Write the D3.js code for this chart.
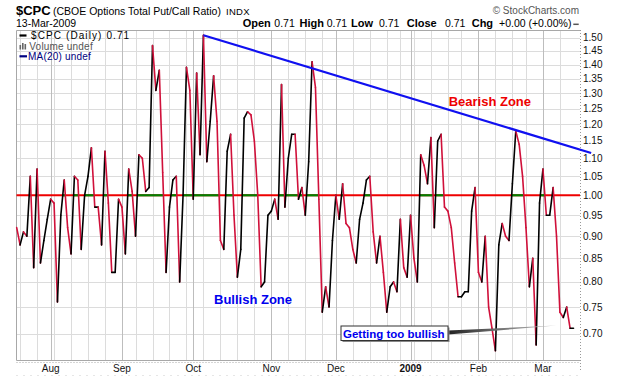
<!DOCTYPE html>
<html>
<head>
<meta charset="utf-8">
<script src="https://cdn.jsdelivr.net/npm/d3@7"></script>
<style>
  body { margin: 0; background: #fff; }
  svg { display: block; }
  text { font-family: "Liberation Sans", Arial, sans-serif; }
</style>
</head>
<body>
<svg id="chart"></svg>
<script>
var width = 620, height = 376;

// trading calendar of the chart
var startDate = "2008-07-18", endDate = "2009-03-13";
var holidays = ["2008-09-01", "2008-11-27", "2008-12-25", "2009-01-01", "2009-01-19", "2009-02-16"];

// $CPC daily close
var cpc = [
  0.92, 0.88, 0.91, 0.90, 1.05, 0.83, 1.07, 0.84, 0.89, 0.94,
  0.99, 0.98, 0.76, 0.95, 1.04, 0.92, 0.86, 1.05, 1.04, 0.87,
  1.00, 1.05, 1.13, 0.97, 0.97, 0.88, 1.12, 0.98, 0.82, 0.82,
  0.99, 0.97, 0.86, 1.07, 1.01, 0.90, 1.11, 1.10, 1.01, 1.02,
  1.47, 1.31, 1.38, 1.06, 0.82, 0.97, 1.04, 1.05, 0.80, 1.00,
  1.39, 1.31, 0.99, 1.37, 1.11, 1.51, 1.09, 1.21, 1.36, 1.21,
  0.89, 0.87, 1.12, 1.17, 0.95, 0.81, 0.87, 1.22, 1.24, 1.23,
  1.15, 1.00, 0.79, 0.80, 0.95, 0.96, 0.99, 0.94, 1.33, 0.97,
  1.10, 1.17, 1.17, 0.99, 1.02, 0.95, 1.09, 1.41, 1.32, 0.99,
  0.74, 0.79, 0.75, 0.89, 1.00, 0.94, 1.03, 0.93, 0.92, 0.87,
  0.84, 0.94, 0.98, 1.04, 1.05, 0.91, 0.84, 0.90, 0.82, 0.74,
  0.79, 0.80, 0.78, 0.94, 0.83, 0.81, 0.95, 0.85, 0.80, 1.11,
  1.08, 1.03, 1.16, 0.92, 1.15, 1.17, 0.97, 0.96, 0.92, 0.84,
  0.77, 0.77, 0.78, 0.78, 0.96, 1.02, 0.82, 0.80, 0.90, 0.75,
  0.71, 0.67, 0.88, 0.93, 0.90, 0.89, 1.03, 1.18, 1.14, 1.05,
  0.92, 0.79, 0.85, 0.68, 0.98, 1.07, 0.95, 0.95, 1.02, 0.90,
  0.74, 0.73, 0.75, 0.71, 0.71
];

var yTicks = [0.70, 0.75, 0.80, 0.85, 0.90, 0.95, 1.00, 1.05, 1.10, 1.15, 1.20, 1.25, 1.30, 1.35, 1.40, 1.45, 1.50];
var monthLabels = ["Aug", "Sep", "Oct", "Nov", "Dec", "2009", "Feb", "Mar"];
var refLevel = 1.00;
// hand drawn trend line: index of trading day, value
var trendLine = [{i: 55, v: 1.51}, {i: 169.2, v: 1.115}];
var calloutTip = {i: 159, v: 0.715};

var headerLabels = ["Open", "High", "Low", "Close", "Chg"];
var headerValues = ["0.71", "0.71", "0.71", "0.71", "+0.00 (+0.00%)"];

var plot = {left: 16.5, right: 580, top: 30, bottom: 360};

var parse = d3.timeParse("%Y-%m-%d"), fmt = d3.timeFormat("%Y-%m-%d");
var days = d3.timeDay.range(parse(startDate), d3.timeDay.offset(parse(endDate), 1))
  .filter(function(d) { return d.getDay() > 0 && d.getDay() < 6 && holidays.indexOf(fmt(d)) < 0; });

var x = d3.scaleLinear().domain([0, cpc.length - 1]).range([16.7, 573.5]);
var y = d3.scaleLog().domain([1.5, 0.7]).range([37.8, 333.8]);

var svg = d3.select("#chart").attr("width", width).attr("height", height);
svg.append("rect").attr("width", width).attr("height", height).attr("fill", "#fff");

// week / month starts
var weekIdx = [], monthIdx = [];
days.forEach(function(d, i) {
  if (i == 0) return;
  if (+d3.timeMonday.floor(d) != +d3.timeMonday.floor(days[i - 1])) weekIdx.push(i);
  if (d.getMonth() != days[i - 1].getMonth()) monthIdx.push(i);
});

var grid = svg.append("g");
grid.selectAll(".hgrid").data(yTicks).enter().append("line")
    .attr("x1", plot.left).attr("x2", plot.right)
    .attr("y1", function(d) { return Math.round(y(d)) + 0.5; })
    .attr("y2", function(d) { return Math.round(y(d)) + 0.5; })
    .attr("stroke", "#dcdcdc");
grid.selectAll(".wgrid").data(weekIdx).enter().append("line")
    .attr("x1", function(d) { return Math.round(x(d)) + 0.5; })
    .attr("x2", function(d) { return Math.round(x(d)) + 0.5; })
    .attr("y1", plot.top).attr("y2", plot.bottom)
    .attr("stroke", "#dcdcdc");
grid.selectAll(".mgrid").data(monthIdx).enter().append("line")
    .attr("x1", function(d) { return Math.round(x(d)) + 0.5; })
    .attr("x2", function(d) { return Math.round(x(d)) + 0.5; })
    .attr("y1", plot.top).attr("y2", plot.bottom)
    .attr("stroke", "#bdbdbd");

// frame
svg.append("path")
    .attr("d", "M" + plot.right + "," + (plot.top + 0.5) + "H" + plot.left + "V" + (plot.bottom + 0.5) + "H" + plot.right)
    .attr("fill", "none").attr("stroke", "#a8a8a8");
svg.append("line")
    .attr("x1", plot.right + 0.5).attr("x2", plot.right + 0.5)
    .attr("y1", plot.top).attr("y2", 370)
    .attr("stroke", "#999").attr("stroke-dasharray", "1,2");
svg.append("line")
    .attr("x1", plot.left).attr("x2", plot.right)
    .attr("y1", plot.bottom + 2.5).attr("y2", plot.bottom + 2.5)
    .attr("stroke", "#aaa").attr("stroke-dasharray", "1,2");
svg.append("line")
    .attr("x1", plot.left).attr("x2", plot.right)
    .attr("y1", 375.5).attr("y2", 375.5)
    .attr("stroke", "#ccc").attr("stroke-dasharray", "1,6");

// reference line at 1.00: red, green where the ratio is above it
var yr = y(refLevel);
svg.append("line")
    .attr("x1", plot.left).attr("x2", plot.right)
    .attr("y1", yr).attr("y2", yr)
    .attr("stroke", "#ee0000").attr("stroke-width", 2.2);

var above = [];
for (var i = 0; i < cpc.length - 1; i++) {
  var ya = y(cpc[i]), yb = y(cpc[i + 1]);
  var a = ya < yr, b = yb < yr;
  if (!a && !b) continue;
  var t = (ya - yr) / (ya - yb);
  var s = a ? i : i + t, e = b ? i + 1 : i + t;
  if (above.length && Math.abs(above[above.length - 1][1] - s) < 1e-9) above[above.length - 1][1] = e;
  else above.push([s, e]);
}
svg.selectAll(".above").data(above).enter().append("line")
    .attr("x1", function(d) { return x(d[0]); })
    .attr("x2", function(d) { return x(d[1]); })
    .attr("y1", yr).attr("y2", yr)
    .attr("stroke", "#008000").attr("stroke-width", 2.2);

// price line, black up / red down
var segs = d3.range(cpc.length - 1);
svg.append("g").selectAll("line").data(segs).enter().append("line")
    .attr("x1", function(i) { return x(i); })
    .attr("y1", function(i) { return y(cpc[i]); })
    .attr("x2", function(i) { return x(i + 1); })
    .attr("y2", function(i) { return y(cpc[i + 1]); })
    .attr("stroke", function(i) { return cpc[i + 1] >= cpc[i] ? "#000" : "#d0103a"; })
    .attr("stroke-width", 1.6)
    .attr("stroke-linecap", "round");

// trend line
svg.append("line")
    .attr("x1", x(trendLine[0].i)).attr("y1", y(trendLine[0].v))
    .attr("x2", x(trendLine[1].i)).attr("y2", y(trendLine[1].v))
    .attr("stroke", "#1010f0").attr("stroke-width", 2.2);

// y axis labels
svg.selectAll(".ylab").data(yTicks).enter().append("text")
    .attr("x", 583).attr("y", function(d) { return y(d) + 3.5; })
    .attr("font-size", 10).attr("fill", "#111")
    .text(function(d) { return d.toFixed(2); });

// x axis labels
svg.selectAll(".xlab").data(monthIdx).enter().append("text")
    .attr("x", function(d) { return x(d); }).attr("y", 371.5)
    .attr("text-anchor", "middle").attr("font-size", 10).attr("fill", "#111")
    .attr("font-weight", function(d, i) { return monthLabels[i] == "2009" ? "bold" : null; })
    .text(function(d, i) { return monthLabels[i]; });

// header
svg.append("text").attr("x", 16).attr("y", 15).attr("font-size", 13).attr("font-weight", "bold").text("$CPC");
svg.append("text").attr("x", 53).attr("y", 15).attr("font-size", 10.5).text("(CBOE Options Total Put/Call Ratio)");
svg.append("text").attr("x", 226).attr("y", 15).attr("font-size", 9.5).attr("letter-spacing", 0.3).text("INDX");
svg.append("text").attr("x", 16).attr("y", 27).attr("font-size", 10.5).text("13-Mar-2009");
svg.append("text").attr("x", 579).attr("y", 13.5).attr("text-anchor", "end")
    .attr("font-size", 10).attr("fill", "#555").text("\u00a9 StockCharts.com");

var hx = [[242.7, 274.3], [299.5, 326.7], [351, 379], [406.7, 445], [471.7, 499]];
headerLabels.forEach(function(l, i) {
  svg.append("text").attr("x", hx[i][0]).attr("y", 27).attr("font-size", 11).attr("font-weight", "bold").text(l);
  svg.append("text").attr("x", hx[i][1]).attr("y", 27).attr("font-size", 10.5).text(headerValues[i]);
});
svg.append("line").attr("x1", 573.3).attr("x2", 578.7).attr("y1", 24.3).attr("y2", 24.3)
    .attr("stroke", "#555").attr("stroke-width", 1.5);

// legend
svg.append("line").attr("x1", 19.5).attr("x2", 26.5).attr("y1", 35.5).attr("y2", 35.5)
    .attr("stroke", "#000").attr("stroke-width", 2.2);
svg.append("text").attr("x", 31).attr("y", 39.3).attr("font-size", 10).attr("letter-spacing", 1.1)
    .text("$CPC (Daily) 0.71");
[[19.5, 45], [22, 43], [24.5, 44]].forEach(function(b) {
  svg.append("rect").attr("x", b[0]).attr("y", b[1]).attr("width", 1.6).attr("height", 49.5 - b[1]).attr("fill", "#666");
});
svg.append("text").attr("x", 29.3).attr("y", 49.6).attr("font-size", 10).attr("letter-spacing", 0.2)
    .attr("fill", "#555").text("Volume undef");
svg.append("line").attr("x1", 19.5).attr("x2", 27).attr("y1", 56.3).attr("y2", 56.3)
    .attr("stroke", "#000080").attr("stroke-width", 2.2);
svg.append("text").attr("x", 28).attr("y", 60).attr("font-size", 10).attr("letter-spacing", 0.2)
    .attr("fill", "#000080").text("MA(20) undef");

// zone notes
svg.append("text").attr("x", 448.7).attr("y", 106).attr("font-size", 13).attr("font-weight", "bold")
    .attr("fill", "#ee0000").text("Bearish Zone");
svg.append("text").attr("x", 214).attr("y", 303.5).attr("font-size", 13).attr("font-weight", "bold")
    .attr("fill", "#0000ee").text("Bullish Zone");

// callout
var defs = svg.append("defs");
var grad = defs.append("linearGradient").attr("id", "wedge").attr("x1", 0).attr("x2", 1).attr("y1", 0).attr("y2", 0);
grad.append("stop").attr("offset", 0).attr("stop-color", "#222");
grad.append("stop").attr("offset", 1).attr("stop-color", "#c8c8c8");
var tx = x(calloutTip.i), ty = y(calloutTip.v);
svg.append("path")
    .attr("d", "M448," + 330.5 + "L" + tx + "," + ty + "L448," + 334.5 + "Z")
    .attr("fill", "url(#wedge)");
svg.append("rect").attr("x", 342.5).attr("y", 327.5).attr("width", 107).attr("height", 14.5).attr("fill", "#888");
svg.append("rect").attr("x", 341).attr("y", 326).attr("width", 107).attr("height", 14.5)
    .attr("fill", "#fff").attr("stroke", "#333");
svg.append("text").attr("x", 343).attr("y", 337.5).attr("font-size", 11.5).attr("font-weight", "bold")
    .attr("fill", "#0000ee").text("Getting too bullish");
</script>
</body>
</html>
